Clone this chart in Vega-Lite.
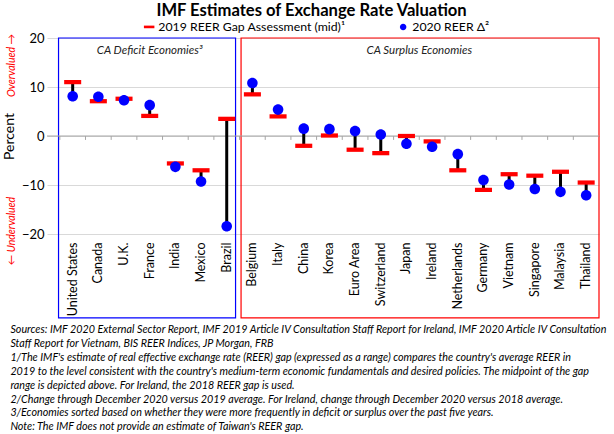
{
  "$schema": "https://vega.github.io/schema/vega-lite/v6.json",
  "padding": {"left": 2, "top": 2, "right": 0, "bottom": 0},
  "config": {"font": "Lato", "view": {"stroke": null}, "concat": {"spacing": 0},
    "legend": {"labelFontSize": 12.3, "labelColor": "#000000", "labelOffset": 3, "symbolSize": 110, "columnPadding": 51, "labelLimit": 300}},
  "title": {"text": "IMF Estimates of Exchange Rate Valuation", "fontSize": 16.6, "fontWeight": "bold", "anchor": "middle", "dx": 6, "offset": 1, "color": "#000000"},
  "datasets": {
    "countries": [
      {"country": "United States", "group": "deficit", "gap": 11.0, "reer": 8.1},
      {"country": "Canada", "group": "deficit", "gap": 7.1, "reer": 8.0},
      {"country": "U.K.", "group": "deficit", "gap": 7.6, "reer": 7.3},
      {"country": "France", "group": "deficit", "gap": 4.1, "reer": 6.3},
      {"country": "India", "group": "deficit", "gap": -5.6, "reer": -6.3},
      {"country": "Mexico", "group": "deficit", "gap": -7.0, "reer": -9.3},
      {"country": "Brazil", "group": "deficit", "gap": 3.5, "reer": -18.4},
      {"country": "Belgium", "group": "surplus", "gap": 8.5, "reer": 10.8},
      {"country": "Italy", "group": "surplus", "gap": 4.0, "reer": 5.4},
      {"country": "China", "group": "surplus", "gap": -2.0, "reer": 1.5},
      {"country": "Korea", "group": "surplus", "gap": 0.1, "reer": 1.4},
      {"country": "Euro Area", "group": "surplus", "gap": -2.8, "reer": 1.0},
      {"country": "Switzerland", "group": "surplus", "gap": -3.5, "reer": 0.3},
      {"country": "Japan", "group": "surplus", "gap": 0.0, "reer": -1.6},
      {"country": "Ireland", "group": "surplus", "gap": -1.1, "reer": -2.2},
      {"country": "Netherlands", "group": "surplus", "gap": -7.0, "reer": -3.7},
      {"country": "Germany", "group": "surplus", "gap": -11.0, "reer": -9.0},
      {"country": "Vietnam", "group": "surplus", "gap": -7.8, "reer": -9.9},
      {"country": "Singapore", "group": "surplus", "gap": -8.1, "reer": -10.8},
      {"country": "Malaysia", "group": "surplus", "gap": -7.3, "reer": -11.4},
      {"country": "Thailand", "group": "surplus", "gap": -9.5, "reer": -12.1}
    ],
    "panels": [
      {"group": "deficit", "title": "CA Deficit Economies³", "first": "United States", "last": "Brazil", "mid": "France"},
      {"group": "surplus", "title": "CA Surplus Economies", "first": "Belgium", "last": "Thailand", "mid": "Ireland"}
    ]
  },
  "vconcat": [
    {
      "width": 552,
      "height": 196,
      "title": {
        "text": [
          "Sources: IMF 2020 External Sector Report, IMF 2019 Article IV Consultation Staff Report for Ireland, IMF 2020 Article IV Consultation",
          "Staff Report for Vietnam, BIS REER Indices, JP Morgan, FRB",
          "1/The IMF's estimate of real effective exchange rate (REER) gap (expressed as a range) compares the country's average REER in",
          "2019 to the level consistent with the country's medium-term economic fundamentals and desired policies.  The midpoint of the gap",
          "range is depicted above.  For Ireland, the 2018 REER gap is used.",
          "2/Change through December 2020 versus 2019 average.  For Ireland, change through December 2020 versus 2018 average.",
          "3/Economies sorted based on whether they were more frequently in deficit or surplus over the past five years.",
          "Note:  The IMF does not provide an estimate of Taiwan's REER gap."
        ],
        "orient": "bottom", "anchor": "start", "frame": "bounds", "align": "left",
        "fontSize": 10.75, "fontStyle": "italic", "fontWeight": "normal", "lineHeight": 13.85,
        "offset": 7, "dx": 8, "color": "#000000"
      },
      "resolve": {"axis": {"y": "independent"}},
      "layer": [
        {
          "data": {"name": "panels"},
          "transform": [{"filter": "datum.group == 'deficit'"}],
          "mark": {"type": "rect", "fillOpacity": 0, "strokeWidth": 1.2, "stroke": "#0000ff", "xOffset": -1.3, "x2Offset": -4},
          "encoding": {
            "x": {"field": "first", "type": "nominal", "bandPosition": 0, "title": null,
              "scale": {"domain": ["United States", "Canada", "U.K.", "France", "India", "Mexico", "Brazil", "Belgium", "Italy", "China", "Korea", "Euro Area", "Switzerland", "Japan", "Ireland", "Netherlands", "Germany", "Vietnam", "Singapore", "Malaysia", "Thailand"], "paddingInner": 0, "paddingOuter": 0.25, "align": 1}},
            "x2": {"field": "last", "bandPosition": 1},
            "y": {"datum": 20, "type": "quantitative", "axis": null, "scale": {"domain": [-20, 20], "nice": false, "zero": false}},
            "y2": {"datum": -37.1}
          }
        },
        {
          "data": {"name": "panels"},
          "transform": [{"filter": "datum.group == 'surplus'"}],
          "mark": {"type": "rect", "fillOpacity": 0, "strokeWidth": 1.2, "stroke": "#ff0000", "xOffset": 1.5, "x2Offset": 0},
          "encoding": {
            "x": {"field": "first", "type": "nominal", "bandPosition": 0, "title": null},
            "x2": {"field": "last", "bandPosition": 1},
            "y": {"datum": 20, "type": "quantitative", "axis": null},
            "y2": {"datum": -37.1}
          }
        },
        {
          "data": {"values": [{}]},
          "mark": {"type": "rule", "color": "#a6a6a6", "strokeWidth": 1},
          "encoding": {
            "y": {"datum": 0, "type": "quantitative", "axis": {
              "orient": "left", "values": [14.5, -19.3],
              "labelExpr": "datum.value > 0 ? 'Overvalued  →' : '←  Undervalued'",
              "labelAngle": 270, "labelAlign": "center", "labelBaseline": "bottom",
              "labelColor": "#ff0000", "labelFontStyle": "italic", "labelFontSize": 10.5,
              "labelPadding": 31, "ticks": false, "domain": false, "grid": false, "title": null,
              "labelFlush": false, "labelOverlap": false, "labelBound": false}}
          }
        },
        {
          "data": {"name": "countries"},
          "mark": {"type": "rule", "color": "#a6a6a6", "strokeWidth": 1},
          "encoding": {
            "x": {"field": "country", "type": "nominal", "bandPosition": 0, "title": null},
            "y": {"datum": 0, "type": "quantitative", "axis": null},
            "y2": {"datum": -0.8}
          }
        },
        {
          "data": {"name": "countries"},
          "mark": {"type": "rule", "color": "#000000", "strokeWidth": 3},
          "encoding": {
            "x": {"field": "country", "type": "nominal", "title": null},
            "y": {"field": "gap", "type": "quantitative", "axis": null},
            "y2": {"field": "reer"}
          }
        },
        {
          "data": {"name": "countries"},
          "transform": [{"fold": ["gap", "reer"], "as": ["measure", "value"]}],
          "mark": {"type": "point", "filled": true, "opacity": 1, "strokeWidth": 0, "size": 290},
          "encoding": {
            "x": {"field": "country", "type": "nominal", "axis": {
              "title": null, "labelAngle": 270, "labelAlign": "right", "labelBaseline": "middle",
              "labelFontSize": 12.5, "labelColor": "#000000", "labelPadding": 8,
              "ticks": false, "domain": false, "grid": false}},
            "y": {"field": "value", "type": "quantitative", "axis": {
              "orient": "left", "values": [-20, -10, 0, 10, 20], "title": "Percent",
              "titleFontSize": 14, "titleFontWeight": "normal", "titleColor": "#000000", "titlePadding": 5,
              "labelFontSize": 13, "labelColor": "#000000", "labelPadding": 3,
              "ticks": false, "domain": false, "grid": true, "gridColor": "#d9d9d9", "gridWidth": 1}},
            "color": {"field": "measure", "type": "nominal",
              "scale": {"domain": ["gap", "reer"], "range": ["#ff0000", "#0000ff"]},
              "legend": {"orient": "none", "legendX": 96, "legendY": -17.5, "direction": "horizontal", "title": null,
                "labelExpr": "datum.label == 'gap' ? '2019 REER Gap Assessment (mid)¹' : '2020 REER Δ²'",
                "labelFontSize": 12.3, "labelColor": "#000000", "labelOffset": 3, "symbolSize": 110, "columnPadding": 51, "labelLimit": 300}},
            "shape": {"field": "measure", "type": "nominal",
              "scale": {"domain": ["gap", "reer"], "range": ["M-1,-0.25H1V0.25H-1Z", "M0.62,0A0.62,0.62 0 1,1 -0.62,0A0.62,0.62 0 1,1 0.62,0Z"]},
              "legend": {"orient": "none", "legendX": 96, "legendY": -17.5, "direction": "horizontal", "title": null,
                "labelExpr": "datum.label == 'gap' ? '2019 REER Gap Assessment (mid)¹' : '2020 REER Δ²'",
                "labelFontSize": 12.3, "labelColor": "#000000", "labelOffset": 3, "symbolSize": 110, "columnPadding": 51, "labelLimit": 300}}
          }
        },
        {
          "data": {"name": "panels"},
          "transform": [{"filter": "datum.group == 'deficit'"}],
          "mark": {"type": "text", "fontStyle": "italic", "fontSize": 11.5, "color": "#222222"},
          "encoding": {
            "x": {"field": "mid", "type": "nominal", "bandPosition": 0.5, "title": null},
            "y": {"datum": 17.3, "type": "quantitative", "axis": null},
            "text": {"field": "title"}
          }
        },
        {
          "data": {"name": "panels"},
          "transform": [{"filter": "datum.group == 'surplus'"}],
          "mark": {"type": "text", "fontStyle": "italic", "fontSize": 11.5, "color": "#222222"},
          "encoding": {
            "x": {"field": "mid", "type": "nominal", "bandPosition": 0, "title": null},
            "y": {"datum": 17.3, "type": "quantitative", "axis": null},
            "text": {"field": "title"}
          }
        }
      ]
    }
  ]
}
